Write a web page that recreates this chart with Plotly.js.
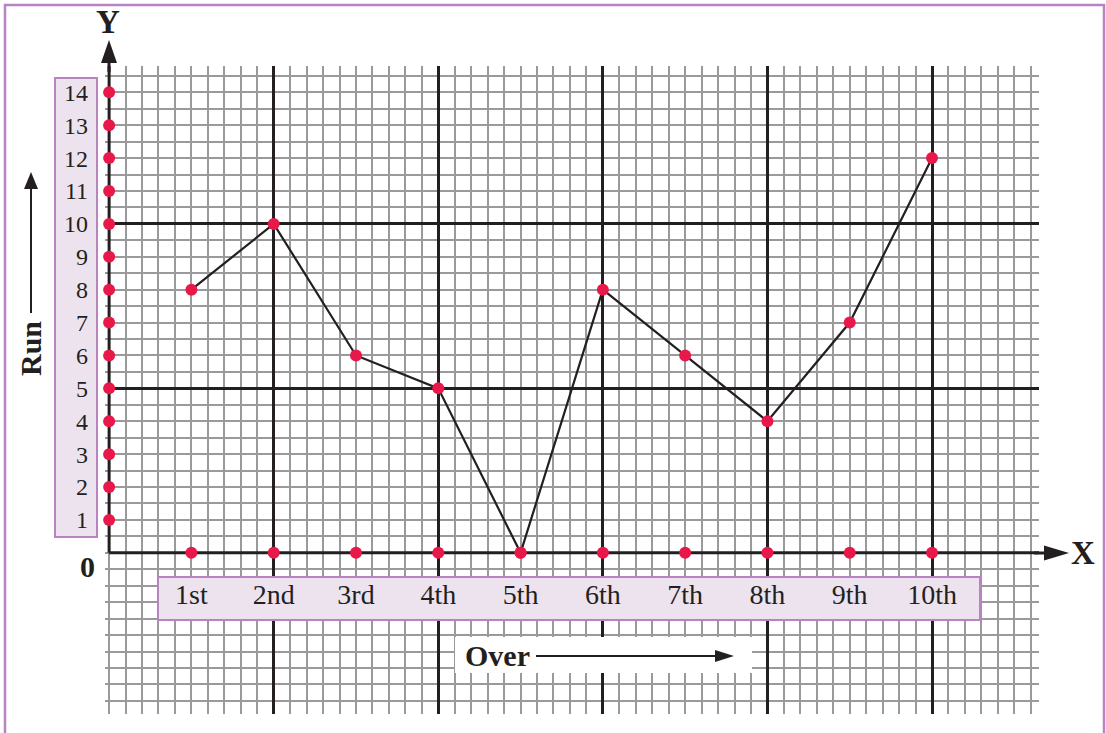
<!DOCTYPE html>
<html>
<head>
<meta charset="utf-8">
<script src="https://cdn.plot.ly/plotly-3.0.1.min.js"></script>
<style>html,body{margin:0;padding:0;background:#fff;}#chart{width:1106px;height:733px;}</style>
</head>
<body>
<div id="chart"></div>
<script>
// ---- data ----
const overs = [1, 2, 3, 4, 5, 6, 7, 8, 9, 10];
const overLabels = ['1st', '2nd', '3rd', '4th', '5th', '6th', '7th', '8th', '9th', '10th'];
const runs = [8, 10, 6, 5, 0, 8, 6, 4, 7, 12];
const runTicks = [1, 2, 3, 4, 5, 6, 7, 8, 9, 10, 11, 12, 13, 14];
const majorOverLines = [2, 4, 6, 8, 10];
const majorRunLines = [5, 10];

// ---- layout geometry ----
const W = 1106, H = 733;
const M = {l: 105, r: 67, t: 66, b: 19};
const xRange = [-0.05, 11.3];
const yRange = [-4.9, 14.8];
const plotW = W - M.l - M.r, plotH = H - M.t - M.b;
const px = p => (p - M.l) / plotW;                 // pixel x -> paper
const py = p => (H - M.b - p) / plotH;             // pixel y -> paper
const dx = p => xRange[0] + (p - M.l) / plotW * (xRange[1] - xRange[0]); // pixel x -> data
const dy = p => yRange[1] - (p - M.t) / plotH * (yRange[1] - yRange[0]); // pixel y -> data

const INK = '#231f20';
const RED = '#e8194a';
const GRID = '#9a9a9c';
const PURPLE = '#b983c1';
const LAVENDER = '#ede3ef';
const SERIF = "'Liberation Serif', serif";

const traces = [
  {
    x: overs, y: runs, type: 'scatter', mode: 'lines+markers',
    line: {color: INK, width: 2.2},
    marker: {color: RED, size: 12},
    cliponaxis: false, hoverinfo: 'skip', showlegend: false
  },
  {
    x: overs, y: overs.map(() => 0), type: 'scatter', mode: 'markers',
    marker: {color: RED, size: 12}, xaxis: 'x2', yaxis: 'y2',
    cliponaxis: false, hoverinfo: 'skip', showlegend: false
  },
  {
    x: runTicks.map(() => 0), y: runTicks, type: 'scatter', mode: 'markers',
    marker: {color: RED, size: 12}, xaxis: 'x2', yaxis: 'y2',
    cliponaxis: false, hoverinfo: 'skip', showlegend: false
  }
];

function headPath(tip, dir, len, half) {
  const [tx, ty] = tip;
  let pts;
  if (dir === 'up') pts = [[tx, ty], [tx - half, ty + len], [tx + half, ty + len]];
  else pts = [[tx, ty], [tx - len, ty - half], [tx - len, ty + half]];
  return 'M' + pts.map(p => px(p[0]) + ',' + py(p[1])).join(' L') + ' Z';
}

const shapes = [
  // outer frame
  {type: 'rect', xref: 'paper', yref: 'paper', x0: px(5), x1: px(1104), y0: py(770), y1: py(5),
   line: {color: PURPLE, width: 2.5}, fillcolor: 'rgba(0,0,0,0)', layer: 'below'},
  // y tick label box
  {type: 'rect', xref: 'paper', yref: 'paper', x0: px(55), x1: px(97), y0: py(537), y1: py(78),
   line: {color: PURPLE, width: 2}, fillcolor: LAVENDER, layer: 'below'},
  // x tick label box
  {type: 'rect', xref: 'x', yref: 'y', x0: dx(158), x1: dx(980), y0: dy(620), y1: dy(577),
   line: {color: PURPLE, width: 2}, fillcolor: LAVENDER, layer: 'between'},
  // "Over" white box
  {type: 'rect', xref: 'x', yref: 'y', x0: dx(455), x1: dx(752), y0: dy(673), y1: dy(637),
   line: {width: 0}, fillcolor: '#ffffff', layer: 'between'},
  // x axis line
  {type: 'line', xref: 'x', yref: 'y', x0: 0, x1: xRange[1], y0: 0, y1: 0,
   line: {color: INK, width: 3}, layer: 'between'},
  // y axis line
  {type: 'line', xref: 'x', yref: 'y', x0: 0, x1: 0, y0: 0, y1: yRange[1],
   line: {color: INK, width: 3}, layer: 'between'},
  // axis extensions and arrowheads
  {type: 'line', xref: 'paper', yref: 'paper', x0: px(109), x1: px(109), y0: py(72), y1: py(58),
   line: {color: INK, width: 3}, layer: 'above'},
  {type: 'path', xref: 'paper', yref: 'paper', path: headPath([109, 40], 'up', 23, 8),
   fillcolor: INK, line: {width: 0}, layer: 'above'},
  {type: 'line', xref: 'paper', yref: 'paper', x0: px(1034), x1: px(1050), y0: py(553), y1: py(553),
   line: {color: INK, width: 3}, layer: 'above'},
  {type: 'path', xref: 'paper', yref: 'paper', path: headPath([1069, 553], 'right', 25, 7.5),
   fillcolor: INK, line: {width: 0}, layer: 'above'},
  // Run arrow
  {type: 'line', xref: 'paper', yref: 'paper', x0: px(31), x1: px(31), y0: py(313), y1: py(186),
   line: {color: INK, width: 2}, layer: 'above'},
  {type: 'path', xref: 'paper', yref: 'paper', path: headPath([31, 172], 'up', 17, 7),
   fillcolor: INK, line: {width: 0}, layer: 'above'},
  // Over arrow
  {type: 'line', xref: 'paper', yref: 'paper', x0: px(536), x1: px(720), y0: py(656), y1: py(656),
   line: {color: INK, width: 2}, layer: 'above'},
  {type: 'path', xref: 'paper', yref: 'paper', path: headPath([734, 656], 'right', 19, 6),
   fillcolor: INK, line: {width: 0}, layer: 'above'}
];

const textNote = (text, x, y, size, extra) => Object.assign({
  text: text, xref: 'paper', yref: 'paper', x: px(x), y: py(y), showarrow: false,
  xanchor: 'center', yanchor: 'middle',
  font: {family: SERIF, size: size, color: INK}
}, extra || {});

const annotations = [
  textNote('<b>Y</b>', 108, 22, 33),
  textNote('<b>X</b>', 1083, 553, 33),
  textNote('<b>0</b>', 87, 566, 30),
  textNote('<b>Run</b>', 30, 349, 30, {textangle: -90}),
  textNote('<b>Over</b>', 497, 655, 30)
];

const layout = {
  width: W, height: H,
  margin: M,
  paper_bgcolor: '#ffffff', plot_bgcolor: '#ffffff',
  showlegend: false,
  hovermode: false,
  xaxis: {
    range: xRange, anchor: 'free', position: py(575),
    tickmode: 'array', tickvals: overs, ticktext: overLabels,
    ticks: '', showline: false, zeroline: false,
    showgrid: true, gridcolor: GRID, gridwidth: 2,
    minor: {dtick: 0.2, tick0: 0, showgrid: true, gridcolor: GRID, gridwidth: 2},
    tickfont: {family: SERIF, size: 28, color: INK},
    fixedrange: true
  },
  yaxis: {
    range: yRange, anchor: 'x',
    tickmode: 'array', tickvals: runTicks, ticktext: runTicks.map(String),
    ticks: '', showline: false, zeroline: false,
    ticklabelstandoff: 16,
    showgrid: true, gridcolor: GRID, gridwidth: 2,
    minor: {dtick: 0.5, tick0: 0, showgrid: true, gridcolor: GRID, gridwidth: 2},
    tickfont: {family: SERIF, size: 24, color: INK},
    fixedrange: true
  },
  xaxis2: {
    range: xRange, overlaying: 'x', anchor: 'y2',
    tickmode: 'array', tickvals: majorOverLines, showticklabels: false,
    ticks: '', showline: false, zeroline: false,
    showgrid: true, gridcolor: INK, gridwidth: 3, fixedrange: true
  },
  yaxis2: {
    range: yRange, overlaying: 'y', anchor: 'x2',
    tickmode: 'array', tickvals: majorRunLines, showticklabels: false,
    ticks: '', showline: false, zeroline: false,
    showgrid: true, gridcolor: INK, gridwidth: 3, fixedrange: true
  },
  shapes: shapes,
  annotations: annotations
};

Plotly.newPlot('chart', traces, layout, {staticPlot: true, displayModeBar: false});
</script>
</body>
</html>
